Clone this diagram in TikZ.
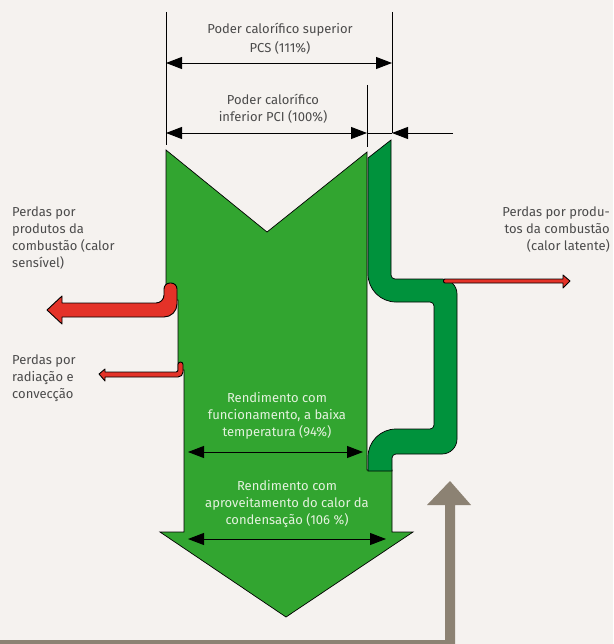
\documentclass[tikz,border=0pt]{standalone}
\usepackage{fontspec}
\setmainfont{Fira Sans}
\usetikzlibrary{arrows.meta}
\definecolor{bgc}{RGB}{245,242,239}
\definecolor{gmain}{RGB}{50,165,48}
\definecolor{gdark}{RGB}{0,146,60}
\definecolor{redc}{RGB}{228,50,40}
\definecolor{grayc}{RGB}{140,130,115}
\definecolor{txtc}{RGB}{75,75,75}
\definecolor{txtin}{RGB}{228,242,222}
\begin{document}
\begin{tikzpicture}[x=1pt,y=-1pt,
  lbl/.style={font=\fontsize{13}{17}\selectfont, text=txtc, inner sep=0pt},
  lblin/.style={lbl, text=txtin},
  dimline/.style={line width=0.9pt, black},
  dimarrow/.style={dimline, {Triangle[length=16pt,width=12pt]}-{Triangle[length=16pt,width=12pt]}},
  onearrow/.style={dimline, -{Triangle[length=16pt,width=12pt]}},
  outl/.style={draw=black, line width=0.7pt},
  outlr/.style={draw=black, line width=0.9pt, line join=round}]
\fill[bgc] (0,0) rectangle (613,644);
\useasboundingbox (0,0) rectangle (613,644);

% gray return arrow
\fill[grayc] (0,640) -- (445,640) -- (445,505) -- (427,505) -- (450,481) -- (471,505) -- (455,505) -- (455,644) -- (0,644) -- cycle;

% main green arrow
\path[fill=gmain, outl] (166,150) -- (267,232) -- (367,152) -- (367,470) -- (392,470) -- (392,532) -- (413,532) -- (286,617) -- (160,532) -- (184,532) -- (184,370) -- (178,370) -- (178,300) -- (166,300) -- cycle;

% dark green strip (latent heat)
\path[fill=gdark, outl] (368,158) -- (391,140) -- (391,275) .. controls (391,277.2) and (392.8,279) .. (395,279) -- (442,279) .. controls (450.3,279) and (457,285.7) .. (457,294) -- (457,439) .. controls (457,447.3) and (450.3,454) .. (442,454) -- (396,454) .. controls (393.8,454) and (392,455.8) .. (392,458) -- (392,471) -- (368,471) -- (368,457) .. controls (368,441.5) and (380.5,429) .. (396,429) -- (430,429) .. controls (432.2,429) and (434,427.2) .. (434,425) -- (434,306) .. controls (434,303.8) and (432.2,302) .. (430,302) -- (396,302) .. controls (380.5,302) and (368,289.5) .. (368,274) -- cycle;

% red loss arrows
\path[fill=redc, outlr] (47,310) -- (62,296) -- (62,303) -- (156,303) .. controls (160.4,303) and (164,299.4) .. (164,295) -- (164,289) .. controls (164,285.7) and (166.7,283) .. (170,283) -- (171,283) .. controls (174.3,283) and (177,285.7) .. (177,289) -- (177,304) .. controls (177,311.2) and (171.2,317) .. (164,317) -- (62,317) -- (62,324) -- cycle;
\path[fill=redc, outlr] (99,374) -- (105,369) -- (105,372) -- (176,372) .. controls (177.1,372) and (178,371.1) .. (178,370) -- (178,364.5) .. controls (178,363.1) and (179.1,362) .. (180.5,362) .. controls (181.9,362) and (183,363.1) .. (183,364.5) -- (183,372) .. controls (183,374.8) and (180.8,377) .. (178,377) -- (105,377) -- (105,381) -- cycle;
\path[fill=redc, outlr] (445,279) -- (563,279) -- (563,275) -- (570,281) -- (563,288) -- (563,283) -- (445,283) .. controls (443,283) and (443,279) .. (445,279) -- cycle;

% dimension coordinates
\coordinate (eLtop) at (166,12);
\coordinate (eLbot) at (166,145);
\coordinate (eRtop) at (392,12);
\coordinate (eRbot) at (392,133);
\coordinate (eMtop) at (367,85);
\coordinate (eMbot) at (367,147);
\coordinate (pcsL) at (166,63);
\coordinate (pcsR) at (392,63);
\coordinate (pciL) at (166,133);
\coordinate (pciR) at (367,133);
\coordinate (latR) at (453,133);
\coordinate (r94L) at (188,452);
\coordinate (r94R) at (363,452);
\coordinate (r106L) at (188,539);
\coordinate (r106R) at (386,539);

\draw[dimline] (eLtop) -- (eLbot);
\draw[dimline] (eRtop) -- (eRbot);
\draw[dimline] (eMtop) -- (eMbot);
\draw[dimarrow] (pcsL) -- (pcsR);
\draw[dimarrow] (pciL) -- (pciR);
\draw[dimline] (pciR) -- (eRbot);
\draw[onearrow] (latR) -- (eRbot);
\draw[dimarrow] (r94L) -- (r94R);
\draw[dimarrow] (r106L) -- (r106R);

% texts
\node[lbl, align=center, font=\fontsize{13}{18.5}\selectfont] (tpcs) at (280,38.5) {Poder calorífico superior\\PCS (111\%)};
\node[lbl, align=center, font=\fontsize{13}{17.5}\selectfont] (tpci) at (273,108.5) {Poder calorífico\\inferior PCI (100\%)};
\node[lbl, align=left, anchor=west] (tsens) at (12,238.5) {Perdas por\\produtos da\\combustão (calor\\sensível)};
\node[lbl, align=left, anchor=west] (trad) at (12,378) {Perdas por\\radiação e\\convecção};
\node[lbl, align=right, anchor=east] (tlat) at (610,230) {Perdas por produ-\\tos da combustão\\(calor latente)};
\node[lblin, align=center] (t94) at (277,416) {Rendimento com\\funcionamento, a baixa\\temperatura (94\%)};
\node[lblin, align=center] (t106) at (287,504) {Rendimento com\\aproveitamento do calor da\\condensação (106 \%)};
\end{tikzpicture}
\end{document}
